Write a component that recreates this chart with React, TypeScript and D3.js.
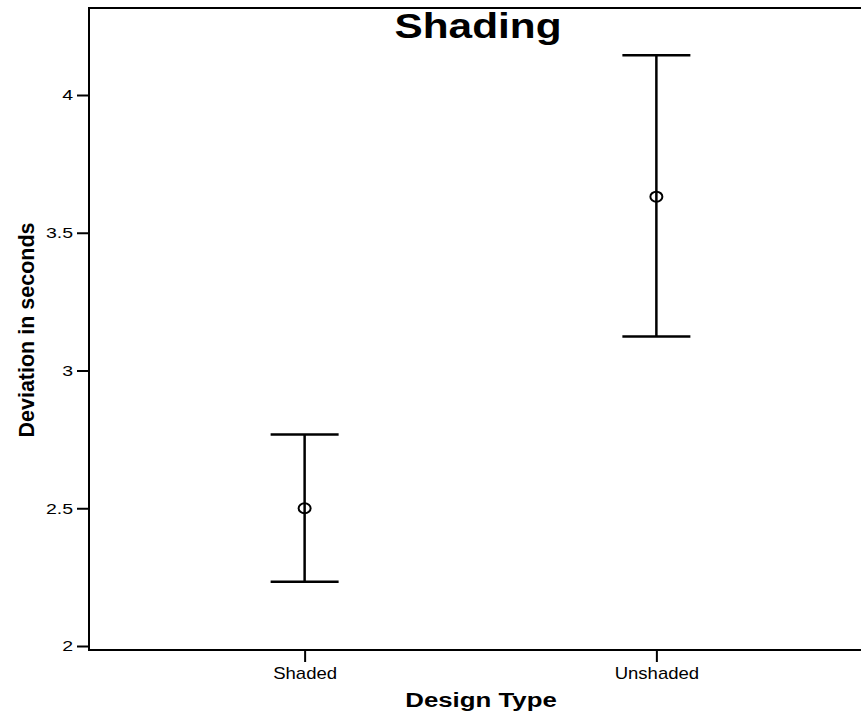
import React, { useEffect, useRef } from 'react';
import * as d3 from 'd3';

const categories = ['Shaded', 'Unshaded'];
const means = [2.5, 3.631];
const lower = [2.233, 3.123];
const upper = [2.768, 4.144];
const yTicks = [2, 2.5, 3, 3.5, 4];

const FONT = '"Liberation Sans", Arial, Helvetica, sans-serif';

const App = () => {
  const ref = useRef<SVGSVGElement>(null);

  useEffect(() => {
    document.body.style.margin = '0';
    const width = 861;
    const height = 716;
    const left = 89;
    const top = 8;
    const bottom = 650;

    const svg = d3.select(ref.current);
    svg.selectAll('*').remove();

    const x = d3.scalePoint<string>().domain(categories).range([left, 872]).padding(0.613);
    const y = d3.scaleLinear().domain([1.9855, 4.3158]).range([bottom, top]);

    // widen text horizontally like the original
    const stretch = (sel: any, k: number) => {
      sel.each(function (this: SVGTextElement) {
        const len = this.getComputedTextLength();
        d3.select(this).attr('textLength', len * k).attr('lengthAdjust', 'spacingAndGlyphs');
      });
    };

    // frame: left axis + top line
    svg.append('line')
      .attr('x1', left).attr('x2', width).attr('y1', top).attr('y2', top)
      .attr('stroke', '#000').attr('stroke-width', 2);

    const yAxis = svg.append('g')
      .attr('transform', `translate(${left},0)`)
      .call(d3.axisLeft(y).tickValues(yTicks).tickSize(12).tickPadding(4).tickFormat((d: any) => String(d)));
    yAxis.select('.domain').remove();
    yAxis.selectAll('line').attr('stroke-width', 2);
    yAxis.selectAll('text').attr('font-family', FONT).attr('font-size', 15).attr('fill', '#000');
    stretch(yAxis.selectAll('text'), 1.3);

    const xAxis = svg.append('g')
      .attr('transform', `translate(0,${bottom})`)
      .call(d3.axisBottom(x).tickSize(12).tickPadding(5));
    xAxis.select('.domain').remove();
    xAxis.selectAll('line').attr('stroke-width', 2);
    xAxis.selectAll('text').attr('font-family', FONT).attr('font-size', 17).attr('fill', '#000');
    stretch(xAxis.selectAll('text'), 1.09);

    svg.append('line')
      .attr('x1', left).attr('x2', left).attr('y1', top - 1).attr('y2', bottom + 1)
      .attr('stroke', '#000').attr('stroke-width', 2);
    svg.append('line')
      .attr('x1', left - 1).attr('x2', width).attr('y1', bottom).attr('y2', bottom)
      .attr('stroke', '#000').attr('stroke-width', 2);

    // error bars
    const bars = svg.append('g');
    categories.forEach((c, i) => {
      const cx = x(c) as number;
      bars.append('line')
        .attr('x1', cx).attr('x2', cx).attr('y1', y(upper[i])).attr('y2', y(lower[i]))
        .attr('stroke', '#000').attr('stroke-width', 2.5);
      [upper[i], lower[i]].forEach((v) => {
        bars.append('line')
          .attr('x1', cx - 34).attr('x2', cx + 34).attr('y1', y(v)).attr('y2', y(v))
          .attr('stroke', '#000').attr('stroke-width', 2.5);
      });
      bars.append('ellipse')
        .attr('cx', cx).attr('cy', y(means[i])).attr('rx', 6).attr('ry', 5)
        .attr('fill', 'none').attr('stroke', '#000').attr('stroke-width', 2);
    });

    // titles
    const title = svg.append('text')
      .attr('x', 478).attr('y', 38).attr('text-anchor', 'middle')
      .attr('font-family', FONT).attr('font-weight', 'bold').attr('font-size', 35)
      .text('Shading');
    stretch(title, 1.21);

    const xt = svg.append('text')
      .attr('x', 481).attr('y', 707).attr('text-anchor', 'middle')
      .attr('font-family', FONT).attr('font-weight', 'bold').attr('font-size', 20)
      .text('Design Type');
    stretch(xt, 1.29);

    const yt = svg.append('text')
      .attr('transform', 'translate(34,330) rotate(-90)').attr('text-anchor', 'middle')
      .attr('font-family', FONT).attr('font-weight', 'bold').attr('font-size', 22)
      .text('Deviation in seconds');
    yt.each(function (this: SVGTextElement) {
      d3.select(this).attr('textLength', 215).attr('lengthAdjust', 'spacingAndGlyphs');
    });
  }, []);

  return <svg ref={ref} width={861} height={716} style={{ display: 'block', background: '#fff' }} />;
};

export default App;
